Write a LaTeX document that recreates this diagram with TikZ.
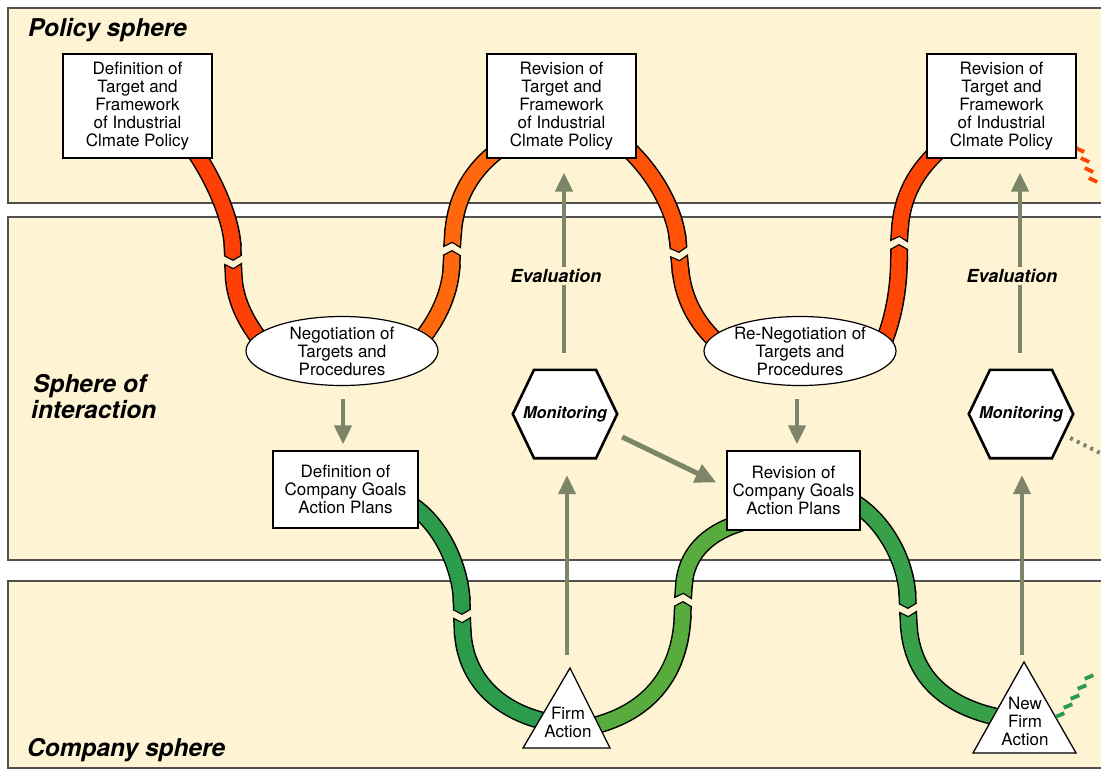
\documentclass[tikz,border=0pt]{standalone}
\usepackage{fontspec}
\setmainfont{TeX Gyre Heros}
\usetikzlibrary{arrows.meta,calc,shapes.geometric}
\pgfdeclarelayer{panel}
\pgfdeclarelayer{ribbon}
\pgfsetlayers{panel,ribbon,main}
\definecolor{cream}{RGB}{254,244,212}
\definecolor{frame}{RGB}{80,80,80}
\definecolor{olive}{RGB}{124,133,103}
\definecolor{redA}{RGB}{255,64,6}
\definecolor{orgA}{RGB}{255,104,12}
\definecolor{redB}{RGB}{255,82,6}
\definecolor{redC}{RGB}{255,70,4}
\definecolor{grnA}{RGB}{44,156,76}
\definecolor{grnB}{RGB}{88,172,62}
\definecolor{grnC}{RGB}{56,160,72}
\newcommand\ribtip[2]{%
  \draw[line width=18pt,black,-{Triangle Cap[length=5pt]}] #2;
  \draw[line width=15pt,#1,shorten >=1.5pt,-{Triangle Cap[length=4.2pt]}] #2;}
\newcommand\ribnotch[2]{%
  \draw[line width=18pt,black,{Triangle Cap[length=5pt,reversed]}-] #2;
  \draw[line width=15pt,#1,shorten <=2.3pt,{Triangle Cap[length=4.2pt,reversed]}-] #2;}
\newcommand\hexdraw[1]{%
  \filldraw[fill=white,draw=black,line width=2.6pt,line join=miter]
    (#1.west) -- ($(#1.north)+(-31,0)$) -- ($(#1.north)+(31,0)$) -- (#1.east)
    -- ($(#1.south)+(31,0)$) -- ($(#1.south)+(-31,0)$) -- cycle;}
\begin{document}
\begin{tikzpicture}[x=1pt,y=-1pt,
  panelbox/.style={fill=cream,draw=frame,line width=1.3pt},
  box/.style={draw=black,line width=1.3pt,fill=white,align=center,inner sep=0pt,font=\fontsize{17}{18}\selectfont},
  oval/.style={ellipse,draw=black,line width=1.2pt,fill=white,inner sep=0pt,minimum width=192pt,minimum height=69pt},
  txt/.style={align=center,inner sep=0pt,font=\fontsize{17}{18}\selectfont},
  hexlabel/.style={minimum width=104pt,minimum height=88pt,inner sep=0pt,font=\fontsize{16.3}{18}\bfseries\itshape\selectfont},
  ttl/.style={inner sep=0pt,font=\fontsize{24.5}{26}\bfseries\itshape\selectfont},
  evl/.style={fill=cream,inner sep=2pt,font=\fontsize{18}{20}\bfseries\itshape\selectfont},
  arr/.style={draw=olive,line width=4.3pt,-{Triangle[width=17pt,length=19pt]}},
  tri/.style={fill=white,draw=black,line width=1.3pt,line join=miter},
  stub/.style={line width=3.8pt}]
\useasboundingbox (0,0) rectangle (1101,771);
\begin{pgfonlayer}{panel}
  \fill[white] (0,0) rectangle (1101,771);
  \draw[panelbox] (8,8) rectangle (1120,203);
  \draw[panelbox] (8,217) rectangle (1120,560);
  \draw[panelbox] (8,581) rectangle (1120,768);
\end{pgfonlayer}

% titles
\node[ttl,anchor=base west] (tpol) at (28,36) {Policy sphere};
\node[ttl,anchor=base west] (tint1) at (33,392) {Sphere of};
\node[ttl,anchor=base west] (tint2) at (31,418) {interaction};
\node[ttl,anchor=base west] (tcom) at (27,756) {Company sphere};

% nodes
\node[box,minimum width=149pt,minimum height=104pt] (b1) at (137.5,106) {Definition of\\Target and\\Framework\\of Industrial\\Clmate Policy};
\node[box,minimum width=149pt,minimum height=104pt] (b2) at (561.5,106) {Revision of\\Target and\\Framework\\of Industrial\\Clmate Policy};
\node[box,minimum width=149pt,minimum height=104pt] (b3) at (1001.5,106) {Revision of\\Target and\\Framework\\of Industrial\\Clmate Policy};
\node[oval] (e1) at (342,351) {};
\node[txt] (e1t) at (e1.center) {Negotiation of\\Targets and\\Procedures};
\node[oval] (e2) at (800,351) {};
\node[txt] (e2t) at (e2.center) {Re-Negotiation of\\Targets and\\Procedures};
\node[box,minimum width=145pt,minimum height=77pt] (b4) at (345.5,489.5) {Definition of\\Company Goals\\Action Plans};
\node[box,minimum width=133pt,minimum height=79pt] (b5) at (793.5,490.5) {Revision of\\Company Goals\\Action Plans};
\node[hexlabel] (m1) at (565,414) {Monitoring};
\node[hexlabel] (m2) at (1021,414) {Monitoring};
\coordinate (t1a) at (570,668); \coordinate (t1l) at (523,748); \coordinate (t1r) at (610,748);
\node[txt] (t1) at (568,722) {Firm\\Action};
\coordinate (t2a) at (1024,662); \coordinate (t2l) at (973,753); \coordinate (t2r) at (1076,753);
\node[txt] (t2) at (1025,721) {New\\Firm\\Action};

\begin{pgfonlayer}{ribbon}
  % policy ribbons
  \ribtip{redA}{($(b1.south)+(55.5,-10)$) .. controls (216,182) and (232,222) .. (233,261)}
  \ribnotch{redA}{(233,263) .. controls (235,300) and (246,325) .. ($(e1.west)+(24,0)$)}
  \ribtip{orgA}{($(e1.east)+(-22,-6)$) .. controls (440,318) and (451,290) .. (452,250)}
  \ribnotch{orgA}{(452,248) .. controls (455,205) and (466,172) .. ($(b2.south west)+(18,-13)$)}
  \ribtip{redB}{($(b2.south east)+(-18,-18)$) .. controls (655,170) and (675,212) .. (679,253)}
  \ribnotch{redB}{(679,255) .. controls (683,296) and (694,322) .. ($(e2.west)+(17,-6)$)}
  \ribtip{redC}{($(e2.east)+(-14,-6)$) .. controls (893,320) and (899,290) .. (899,244)}
  \ribnotch{redC}{(899,242) .. controls (902,200) and (913,172) .. ($(b3.south west)+(18,-13)$)}
  % company ribbons
  \ribtip{grnA}{($(b4.east)+(-8,15)$) .. controls (444,526) and (461,572) .. (462,615)}
  \ribnotch{grnA}{(462,617) .. controls (465,680) and (500,712) .. (548,722)}
  \ribtip{grnB}{(593,726) .. controls (650,712) and (681,672) .. (683,601)}
  \ribnotch{grnB}{(683,599) .. controls (686,555) and (706,533) .. ($(b5.south west)+(15,-8)$)}
  \ribtip{grnC}{($(b5.east)+(-10,10)$) .. controls (885,520) and (906,562) .. (908,609)}
  \ribnotch{grnC}{(908,611) .. controls (912,680) and (950,708) .. (1002,718)}
  % triangles and hexagons
  \filldraw[tri] (t1a) -- (t1r) -- (t1l) -- cycle;
  \filldraw[tri] (t2a) -- (t2r) -- (t2l) -- cycle;
  \hexdraw{m1}
  \hexdraw{m2}
  % cut-off continuations at the right edge
  \foreach \cx/\cy in {1080/150, 1085/160, 1089/170, 1093/180}
    \draw[redC,stub] (\cx-4.2,\cy-2) -- (\cx+4.2,\cy+2);
  \foreach \cx/\cy in {1060/715, 1068/706, 1075/697, 1082/687, 1089/677}
    \draw[grnA,stub] (\cx-4.3,\cy+1.8) -- (\cx+4.3,\cy-1.8);
\end{pgfonlayer}

% olive arrows
\draw[arr] ($(e1.south)+(1,13)$) -- ($(e1.south |- b4.north)+(1,-6)$);
\draw[arr] ($(e2.south)+(-3,13)$) -- ($(e2.south |- b5.north)+(-3,-6)$);
\draw[arr] ($(t1a)+(-3,-13)$) -- ($(t1a |- m1.south)+(-3,17)$);
\draw[arr] ($(t2a)+(-2,-7)$) -- ($(t2a |- m2.south)+(-2,17)$);
\draw[arr] ($(m1.north)+(-1,-17)$) -- ($(m1.north |- b2.south)+(-1,14)$);
\draw[arr] ($(m2.north)+(-1,-17)$) -- ($(m2.north |- b3.south)+(-1,14)$);
\draw[draw=olive,line width=5pt,-{Triangle[width=19pt,length=21pt]}] ($(m1.east)+(5,23)$) -- ($(b5.west)+(-10,-8)$);
\draw[olive,line width=4pt,dash pattern=on 3pt off 4.5pt] ($(m2.east)+(-3,24)$) -- ++(40,20);
\node[evl] (ev1) at (556,276) {Evaluation};
\node[evl] (ev2) at (1012,276) {Evaluation};
\end{tikzpicture}
\end{document}
